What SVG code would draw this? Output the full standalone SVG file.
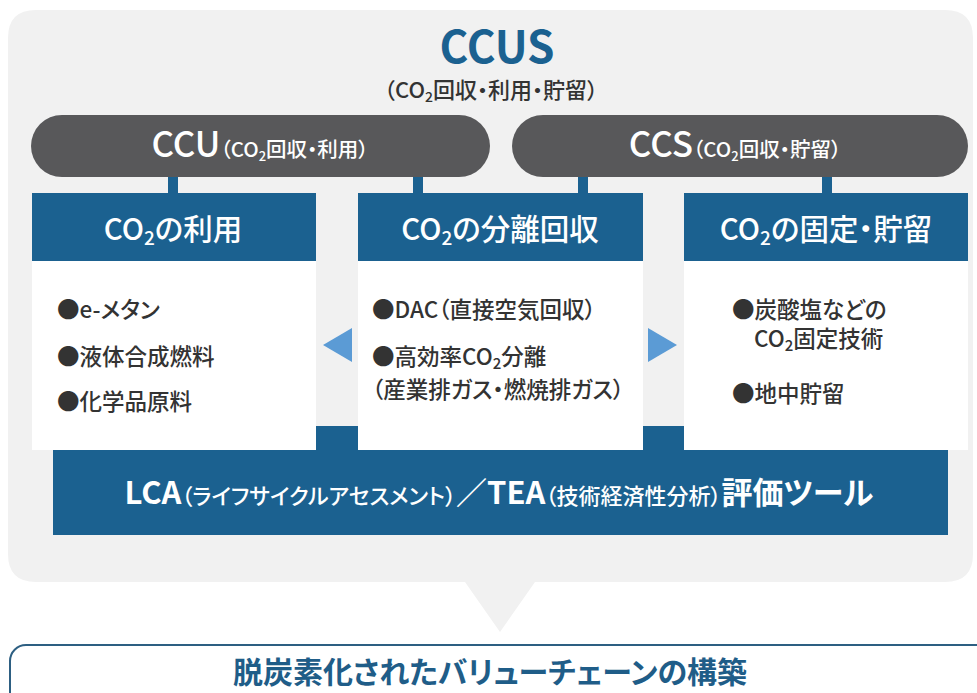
<svg xmlns="http://www.w3.org/2000/svg" width="977" height="693" viewBox="0 0 977 693">
<defs>
<style>
text{font-family:"Noto Sans CJK JP","Noto Sans",sans-serif;font-feature-settings:"palt";}
.blue{fill:#1b6190;}
.pill{fill:#58585a;}
.hdr{fill:#fff;font-size:29.5px;font-weight:500;text-anchor:middle;}
.body{fill:#333;font-size:22.5px;font-weight:500;}
.arrow{fill:#5b9bd5;}
.pillbig{font-size:35px;font-weight:500;}
.pillsm{font-size:20.5px;font-weight:500;}
.pillsub{font-size:13px;font-weight:500;}
.lbig{font-size:31px;font-weight:700;}
.lsm{font-size:22px;font-weight:500;}
</style>
</defs>
<rect width="977" height="693" fill="#ffffff"/>
<path id="panel" d="M36 10 H945 Q973 10 973 38 V554 Q973 582 945 582 H535 L500 632 L465 582 H36 Q8 582 8 554 V38 Q8 10 36 10 Z" fill="#f1f1f1"/>

<g id="title">
<text x="497" y="63" text-anchor="middle" font-size="44" font-weight="700" class="blue">CCUS</text>
<text x="491" y="98" text-anchor="middle" font-size="22" font-weight="500" fill="#333">（CO<tspan font-size="14" dy="4">2</tspan><tspan dy="-4">回収・利用・貯留）</tspan></text>
</g>

<g id="connectors">
<rect x="168" y="175" width="10" height="20" class="blue"/>
<rect x="413" y="175" width="10" height="20" class="blue"/>
<rect x="578" y="175" width="10" height="20" class="blue"/>
<rect x="822" y="175" width="10" height="20" class="blue"/>
<polygon class="arrow" points="323,345 352,328 352,362"/>
<polygon class="arrow" points="677,345 648,328 648,362"/>
</g>

<g id="ccu">
<rect x="31" y="115" width="459" height="62" rx="31" class="pill"/>
<text x="260" y="157" text-anchor="middle" fill="#fff"><tspan class="pillbig">CCU</tspan><tspan class="pillsm">（CO</tspan><tspan class="pillsub" dy="4">2</tspan><tspan class="pillsm" dy="-4">回収・利用）</tspan></text>
</g>

<g id="ccs">
<rect x="512" y="115" width="456" height="62" rx="31" class="pill"/>
<text x="735" y="157" text-anchor="middle" fill="#fff"><tspan class="pillbig">CCS</tspan><tspan class="pillsm">（CO</tspan><tspan class="pillsub" dy="4">2</tspan><tspan class="pillsm" dy="-4">回収・貯留）</tspan></text>
</g>

<g id="lca">
<rect x="53" y="426" width="895" height="109" class="blue"/>
<text x="499" y="504" text-anchor="middle" fill="#fff"><tspan class="lbig">LCA</tspan><tspan class="lsm">（ライフサイクルアセスメント）</tspan><tspan class="lbig">／TEA</tspan><tspan class="lsm">（技術経済性分析）</tspan><tspan class="lbig">評価ツール</tspan></text>
</g>

<g id="box-use">
<rect x="32" y="261" width="284" height="189" fill="#fff"/>
<rect x="32" y="193" width="284" height="68" class="blue"/>
<text class="hdr" x="173" y="240">CO<tspan font-size="19" dy="5">2</tspan><tspan dy="-5">の利用</tspan></text>
<text class="body" x="57" y="318">●e-メタン</text>
<text class="body" x="57" y="365">●液体合成燃料</text>
<text class="body" x="57" y="410">●化学品原料</text>
</g>

<g id="box-capture">
<rect x="358" y="261" width="285" height="189" fill="#fff"/>
<rect x="358" y="193" width="285" height="68" class="blue"/>
<text class="hdr" x="500" y="240">CO<tspan font-size="19" dy="5">2</tspan><tspan dy="-5">の分離回収</tspan></text>
<text class="body" x="372" y="318">●DAC（直接空気回収）</text>
<text class="body" x="372" y="365">●高効率CO<tspan font-size="15" dy="4">2</tspan><tspan dy="-4">分離</tspan></text>
<text class="body" x="372" y="398">（産業排ガス・燃焼排ガス）</text>
</g>

<g id="box-storage">
<rect x="684" y="261" width="284" height="189" fill="#fff"/>
<rect x="684" y="193" width="284" height="68" class="blue"/>
<text class="hdr" x="826" y="240">CO<tspan font-size="19" dy="5">2</tspan><tspan dy="-5">の固定・貯留</tspan></text>
<text class="body" x="732" y="318">●炭酸塩などの</text>
<text class="body" x="754" y="347">CO<tspan font-size="15" dy="4">2</tspan><tspan dy="-4">固定技術</tspan></text>
<text class="body" x="732" y="402">●地中貯留</text>
</g>

<g id="result">
<rect x="10" y="645" width="1000" height="90" rx="16" fill="#fff" stroke="#2d5f82" stroke-width="2"/>
<text x="490" y="683" text-anchor="middle" font-size="30" font-weight="700" fill="#1f5d88">脱炭素化されたバリューチェーンの構築</text>
</g>
</svg>
